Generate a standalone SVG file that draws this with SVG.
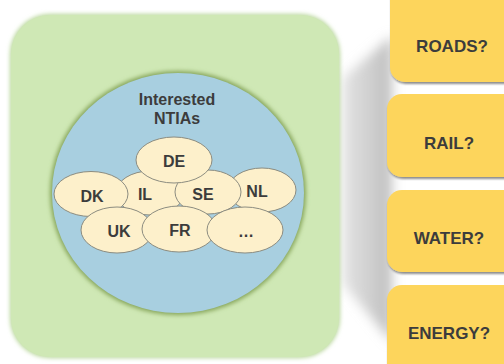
<svg xmlns="http://www.w3.org/2000/svg" width="504" height="364" viewBox="0 0 504 364">
<defs>
<style>
.lbl{font-family:"Liberation Sans",Arial,sans-serif;font-weight:bold;fill:#3c3c3c;text-anchor:middle}
.ell{fill:#fdf0cb;stroke:#8c8c80;stroke-width:1}
.box{fill:#fdd55c}
</style>
<filter id="soft" x="-20%" y="-20%" width="140%" height="140%"><feGaussianBlur stdDeviation="2"/></filter>
<filter id="blur8" x="-50%" y="-20%" width="200%" height="140%"><feGaussianBlur stdDeviation="6"/></filter>
<filter id="ds" x="-10%" y="-10%" width="130%" height="130%"><feDropShadow dx="1" dy="2" stdDeviation="1.2" flood-color="#000" flood-opacity="0.45"/></filter>
<linearGradient id="sh" x1="0" y1="0" x2="1" y2="0">
<stop offset="0" stop-color="#cfcfcf" stop-opacity="0.6"/>
<stop offset="1" stop-color="#bdbdbd"/>
</linearGradient>
</defs>
<rect width="504" height="364" fill="#fff"/>
<polygon points="343,78 392,36 392,342 343,284" fill="url(#sh)" filter="url(#blur8)"/>
<g id="green">
<rect x="10" y="14" width="330" height="344" rx="40" fill="#b9d79c" filter="url(#soft)"/>
<rect x="11" y="15" width="328" height="342" rx="39" fill="#cfe8b5"/>
</g>
<g id="blue">
<ellipse cx="178" cy="193" rx="128" ry="122" fill="#86a55a" filter="url(#soft)"/>
<ellipse cx="178" cy="193" rx="126" ry="120" fill="#a8cfe0"/>
<text class="lbl" x="177" y="105" font-size="16">Interested</text>
<text class="lbl" x="177" y="124" font-size="16">NTIAs</text>
</g>
<g id="IL"><ellipse class="ell" cx="150" cy="193" rx="34" ry="22"/><text class="lbl" x="145" y="200" font-size="16">IL</text></g>
<g id="NL"><ellipse class="ell" cx="262" cy="190" rx="34" ry="22"/><text class="lbl" x="257" y="197" font-size="16">NL</text></g>
<g id="SE"><ellipse class="ell" cx="208" cy="192" rx="33" ry="22"/><text class="lbl" x="203" y="200" font-size="16">SE</text></g>
<g id="DK"><ellipse class="ell" cx="91" cy="194" rx="37" ry="22.5"/><text class="lbl" x="92" y="202" font-size="16">DK</text></g>
<g id="DE"><ellipse class="ell" cx="174" cy="160" rx="38" ry="23"/><text class="lbl" x="174" y="167" font-size="16">DE</text></g>
<g id="UK"><ellipse class="ell" cx="117" cy="230" rx="36" ry="23"/><text class="lbl" x="119" y="237" font-size="16">UK</text></g>
<g id="FR"><ellipse class="ell" cx="179" cy="229" rx="37" ry="23"/><text class="lbl" x="180" y="236" font-size="16">FR</text></g>
<g id="more"><ellipse class="ell" cx="245" cy="230" rx="38" ry="23"/><text class="lbl" x="246" y="237" font-size="16">…</text></g>
<g id="roads"><rect class="box" x="390" y="-20" width="140" height="102" rx="15" filter="url(#ds)"/><text class="lbl" x="452" y="52" font-size="17">ROADS?</text></g>
<g id="rail"><rect class="box" x="387" y="94" width="140" height="83" rx="15" filter="url(#ds)"/><text class="lbl" x="449" y="149" font-size="17">RAIL?</text></g>
<g id="water"><rect class="box" x="387" y="190" width="140" height="82" rx="15" filter="url(#ds)"/><text class="lbl" x="449" y="244" font-size="17">WATER?</text></g>
<g id="energy"><rect class="box" x="387" y="285" width="140" height="100" rx="15" filter="url(#ds)"/><text class="lbl" x="449" y="339" font-size="17">ENERGY?</text></g>
<g id="connectors"/>
</svg>
